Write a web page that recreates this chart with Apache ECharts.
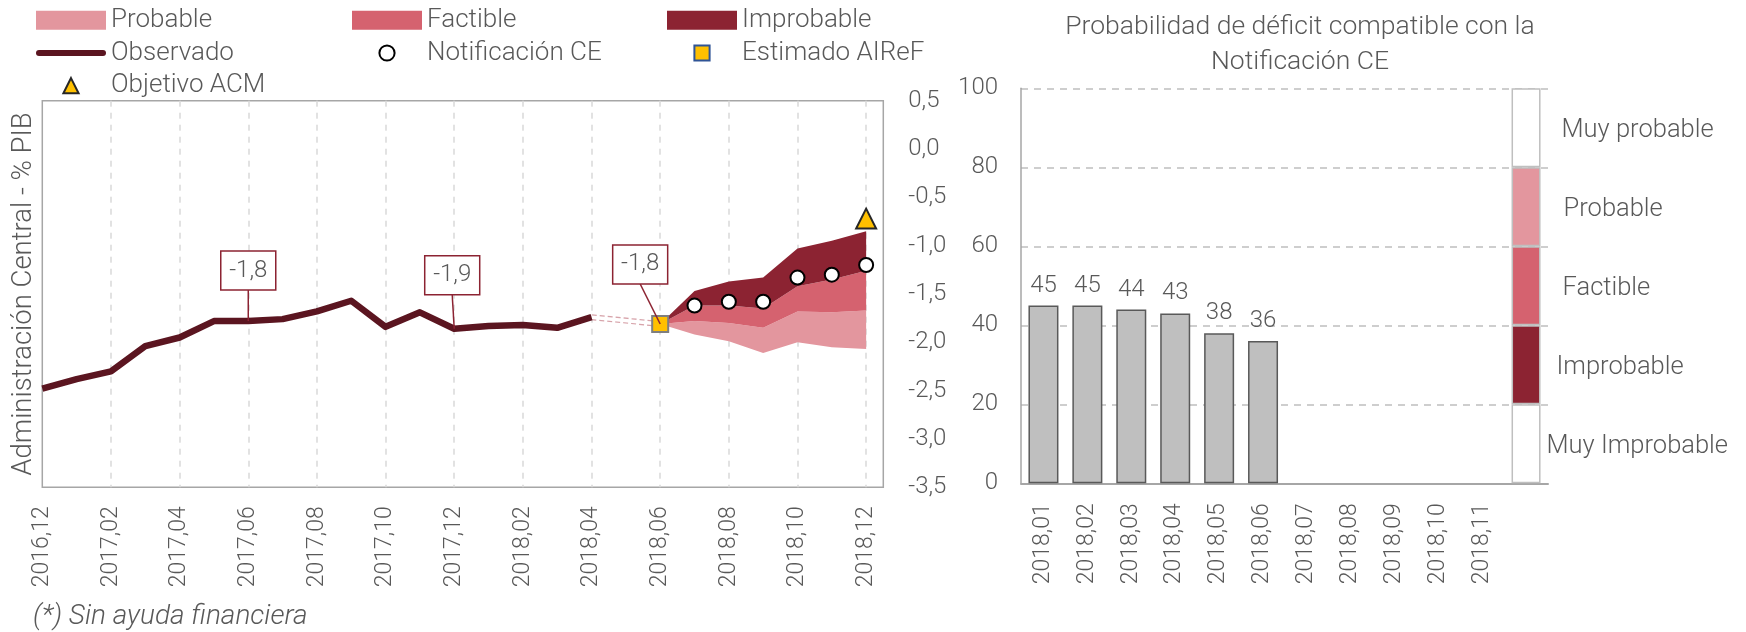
<!DOCTYPE html>
<html><head><meta charset="utf-8">
<script src="https://cdn.jsdelivr.net/npm/echarts@6/dist/echarts.min.js"></script>
<style>html,body{margin:0;padding:0;background:#fff}#c{width:1746px;height:632px}</style>
</head><body><div id="c"></div>
<script>
// ---------- DATA ----------
const months = ['2016,12','2017,01','2017,02','2017,03','2017,04','2017,05','2017,06','2017,07','2017,08','2017,09','2017,10','2017,11','2017,12',
  '2018,01','2018,02','2018,03','2018,04','2018,05','2018,06','2018,07','2018,08','2018,09','2018,10','2018,11','2018,12'];
const observado = [-2.48,-2.38,-2.30,-2.04,-1.95,-1.78,-1.78,-1.76,-1.68,-1.57,-1.84,-1.69,-1.86,-1.83,-1.82,-1.85,-1.74];
const estimadoMes = '2018,06';
const estimadoAIReF = -1.81;
const fanMonths = ['2018,06','2018,07','2018,08','2018,09','2018,10','2018,11','2018,12'];
const fanBottom   = [-1.81,-1.92,-1.99,-2.11,-2.00,-2.05,-2.07];
const probableTop = [-1.81,-1.78,-1.80,-1.85,-1.68,-1.69,-1.67];
const factibleTop = [-1.81,-1.62,-1.62,-1.65,-1.42,-1.35,-1.26];
const improbTop   = [-1.81,-1.47,-1.37,-1.33,-1.03,-0.95,-0.85];
const notifMonths = ['2018,07','2018,08','2018,09','2018,10','2018,11','2018,12'];
const notificacionCE = [-1.62,-1.58,-1.58,-1.33,-1.30,-1.20];
const objetivoMes = '2018,12';
const objetivoACM = -0.72;
const callMonths = ['2017,06','2017,12','2018,06'];

const probMonths = ['2018,01','2018,02','2018,03','2018,04','2018,05','2018,06','2018,07','2018,08','2018,09','2018,10','2018,11',''];
const probabilidad = [45,45,44,43,38,36];
const escalaNombres = ['Muy Improbable','Improbable','Factible','Probable','Muy probable'];
const escalaTramo = [20,20,20,20,20];

// ---------- STYLE ----------
const FONT = 'Roboto';
const GREY = '#595959';
const C_PROB = '#e3969e', C_FACT = '#d5626f', C_IMPR = '#8c2332', C_OBS = '#5b1520';
const escalaColores = ['#ffffff', C_IMPR, C_FACT, C_PROB, '#ffffff'];
const escalaDist = [6, 16, 22, 23, 21];
const callOffsets = [[0,-31],[-2,-34],[-20,-40]];
const LINE_ICON = 'path://M3,0 L67,0 A3,3 0 0 1 67,6 L3,6 A3,3 0 0 1 3,0 Z';

const idx = m => months.indexOf(m);
const fmt = v => v.toFixed(1).replace('.', ',');
const fanX = fanMonths.map(idx);

const obsData = observado.map((v, i) => [i, v]);
const lastObs = obsData[obsData.length - 1];
const enlaceData = [lastObs, [idx(estimadoMes), estimadoAIReF]];
const callData = callMonths.map(m => {
  const i = idx(m);
  const v = i < observado.length ? observado[i] : estimadoAIReF;
  return [i, v];
});

const bandSeries = (name, low, high, color) => ({
  name, type: 'custom', xAxisIndex: 0, yAxisIndex: 0, z: 2, silent: true,
  itemStyle: { color },
  encode: { x: 0, y: [1, 2] },
  data: fanX.map((x, i) => [x, low[i], high[i]]),
  renderItem: (params, api) => {
    if (params.dataIndex !== 0) return;
    const top = fanX.map((x, i) => api.coord([x, high[i]]));
    const bot = fanX.map((x, i) => api.coord([x, low[i]])).reverse();
    return { type: 'polygon', shape: { points: top.concat(bot) }, style: { fill: color } };
  }
});

const txt = { fontFamily: FONT, fontWeight: 300, color: GREY };

const legendBase = {
  orient: 'vertical', top: 7.3, padding: 0, itemWidth: 70, itemHeight: 19, itemGap: 6.7,
  selectedMode: false,
  textStyle: { ...txt, fontSize: 26, lineHeight: 26 },
  lineStyle: { width: 'inherit', cap: 'round' }
};

const option = {
  animation: false,
  backgroundColor: '#fff',
  textStyle: { fontFamily: FONT },
  legend: [
    { ...legendBase, left: 36, data: [{ name: 'Probable', icon: 'rect' }, { name: 'Observado', icon: LINE_ICON }, 'Objetivo ACM'] },
    { ...legendBase, left: 352, data: [{ name: 'Factible', icon: 'rect' }, 'Notificación CE'] },
    { ...legendBase, left: 667, data: [{ name: 'Improbable', icon: 'rect' }, { name: 'Estimado AIReF', itemStyle: { borderColor: '#2f5496' } }] }
  ],
  grid: [
    { left: 42.3, top: 100.7, width: 841, height: 386.6, show: true, borderColor: '#a6a6a6', borderWidth: 1.5, backgroundColor: 'transparent' },
    { left: 1021, top: 88.3, width: 527, height: 395 }
  ],
  xAxis: [
    { type: 'value', gridIndex: 0, min: 0, max: 24.5, interval: 2,
      axisLine: { show: false }, axisTick: { show: false },
      splitLine: { show: true, showMinLine: false, showMaxLine: false, lineStyle: { color: '#d9d9d9', width: 1.5, type: [6, 6] } },
      axisLabel: { rotate: 90, margin: 19, fontSize: 23, ...txt, showMaxLabel: false,
        formatter: v => (Number.isInteger(v) && months[v]) ? months[v] : '' } },
    { type: 'category', gridIndex: 1, data: probMonths,
      axisLine: { show: true, lineStyle: { color: '#a6a6a6', width: 2 } }, axisTick: { show: false },
      axisLabel: { rotate: 90, margin: 20, fontSize: 23, ...txt, interval: 0 } }
  ],
  yAxis: [
    { type: 'value', gridIndex: 0, position: 'right', min: -3.5, max: 0.5, interval: 0.5,
      axisLine: { show: false }, axisTick: { show: false }, splitLine: { show: false },
      axisLabel: { margin: 25, fontSize: 24, ...txt, formatter: fmt } },
    { type: 'value', gridIndex: 0, position: 'left', min: -3.5, max: 0.5, interval: 0.5,
      axisLine: { show: false }, axisTick: { show: false }, splitLine: { show: false }, axisLabel: { show: false },
      name: 'Administración Central - % PIB', nameLocation: 'middle', nameRotate: 90, nameGap: 4,
      nameTextStyle: { fontSize: 27.5, ...txt } },
    { type: 'value', gridIndex: 1, min: 0, max: 100, interval: 20,
      axisLine: { show: true, lineStyle: { color: '#a6a6a6', width: 1.5 } }, axisTick: { show: false },
      splitLine: { show: true, lineStyle: { color: '#bfbfbf', width: 1.5, type: [7, 6] } },
      axisLabel: { margin: 23, fontSize: 24, ...txt } }
  ],
  graphic: [
    { type: 'text', x: 1300, y: 45, style: { text: 'Probabilidad de déficit compatible con la\nNotificación CE',
      textAlign: 'center', textVerticalAlign: 'middle', fontSize: 26.5, fontWeight: 300, fontFamily: FONT, fill: GREY, lineHeight: 35 } },
    { type: 'text', x: 33, y: 616.7, style: { text: '(*) Sin ayuda financiera', textVerticalAlign: 'middle',
      fontSize: 28, fontStyle: 'italic', fontWeight: 300, fontFamily: FONT, fill: GREY } }
  ],
  series: [
    bandSeries('Probable', fanBottom, probableTop, C_PROB),
    bandSeries('Factible', probableTop, factibleTop, C_FACT),
    bandSeries('Improbable', factibleTop, improbTop, C_IMPR),
    { name: 'enlace1', type: 'line', data: enlaceData, symbol: 'none', lineStyle: { color: '#d7a3aa', width: 6, type: [5, 3] }, z: 3 },
    { name: 'enlace2', type: 'line', data: enlaceData, symbol: 'none', lineStyle: { color: '#ffffff', width: 3.5 }, z: 3 },
    { name: 'Observado', type: 'line', data: obsData, symbol: 'none', itemStyle: { color: C_OBS },
      lineStyle: { color: C_OBS, width: 6.5, join: 'round' }, z: 4 },
    { name: 'Notificación CE', type: 'line', data: notificacionCE.map((v, i) => [idx(notifMonths[i]), v]),
      symbol: 'circle', symbolSize: 14, lineStyle: { width: 0, opacity: 0 },
      itemStyle: { color: '#ffffff', borderColor: '#000000', borderWidth: 2 }, z: 6 },
    { name: 'Estimado AIReF', type: 'line', data: [[idx(estimadoMes), estimadoAIReF]],
      symbol: 'rect', symbolSize: 16, lineStyle: { width: 0, opacity: 0 },
      itemStyle: { color: '#ffc000', borderColor: '#7f7f7f', borderWidth: 2 }, z: 6 },
    { name: 'Objetivo ACM', type: 'line', data: [[idx(objetivoMes), objetivoACM]],
      symbol: 'triangle', symbolSize: 20, lineStyle: { width: 0, opacity: 0 },
      itemStyle: { color: '#ffc000', borderColor: '#262626', borderWidth: 2 }, z: 6 },
    { name: 'callouts', type: 'custom', xAxisIndex: 0, yAxisIndex: 0, data: callData, z: 10, silent: true,
      renderItem: (params, api) => {
        const p = api.coord([api.value(0), api.value(1)]);
        const o = callOffsets[params.dataIndex];
        const bx = p[0] + o[0], by = p[1] + o[1];
        return { type: 'group', children: [
          { type: 'line', shape: { x1: p[0], y1: p[1], x2: bx, y2: by }, style: { stroke: C_IMPR, lineWidth: 1.5 } },
          { type: 'rect', shape: { x: bx - 27.5, y: by - 39, width: 55, height: 39 }, style: { fill: '#fff', stroke: C_IMPR, lineWidth: 1.5 } },
          { type: 'text', x: bx, y: by - 19.5, style: { text: fmt(api.value(1)), textAlign: 'center', textVerticalAlign: 'middle',
            fontSize: 24, fontWeight: 300, fontFamily: FONT, fill: GREY } }
        ] };
      } },
    { name: 'probabilidad', type: 'bar', xAxisIndex: 1, yAxisIndex: 2, data: probabilidad, barWidth: 30, barGap: '-100%',
      itemStyle: { color: '#bfbfbf', borderColor: '#595959', borderWidth: 1.5 },
      label: { show: true, position: 'top', distance: 8, fontSize: 24, ...txt } },
    ...escalaNombres.map((n, k) => ({
      name: 'escala_' + k, type: 'bar', xAxisIndex: 1, yAxisIndex: 2, stack: 'escala', barWidth: 29, barGap: '-100%',
      data: probMonths.map((m, i) => i === probMonths.length - 1 ? escalaTramo[k] : null),
      itemStyle: { color: escalaColores[k], borderColor: '#bfbfbf', borderWidth: 1.5 },
      label: { show: true, position: 'right', distance: escalaDist[k], offset: [0, 3], fontSize: 25.5, ...txt, formatter: () => n }
    }))
  ]
};

const chart = echarts.init(document.getElementById('c'), null, { renderer: 'canvas' });
chart.setOption(option);
</script></body></html>
